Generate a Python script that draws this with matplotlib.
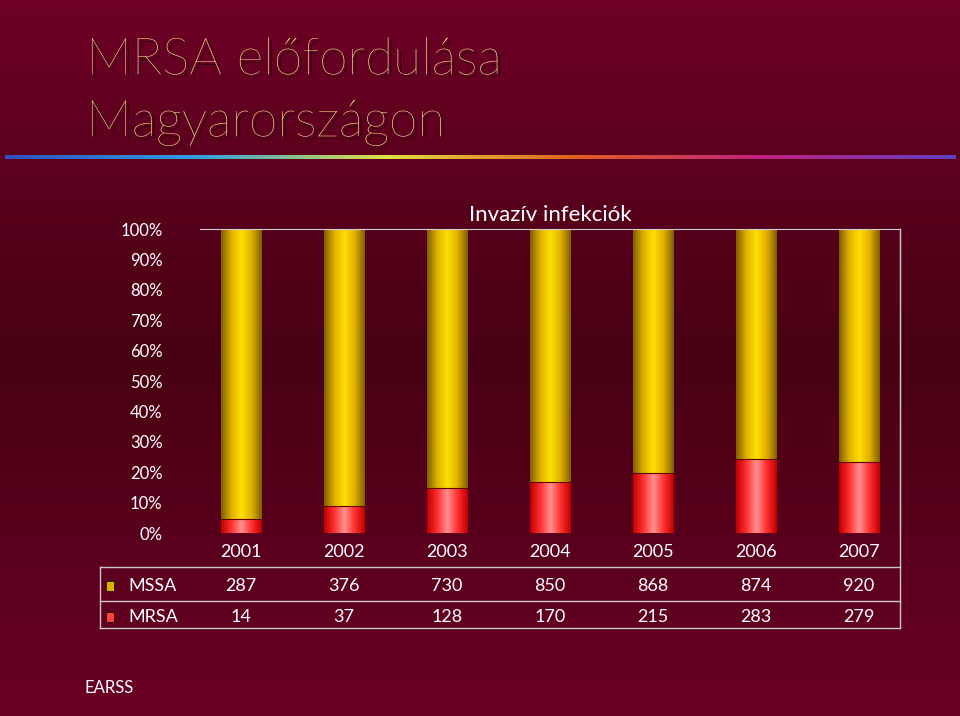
import matplotlib
matplotlib.use("Agg")
import matplotlib.pyplot as plt
import numpy as np
import matplotlib.patheffects as pe
from matplotlib.colors import LinearSegmentedColormap
from matplotlib.patches import Rectangle

years = ["2001", "2002", "2003", "2004", "2005", "2006", "2007"]
mssa = [287, 376, 730, 850, 868, 874, 920]
mrsa = [14, 37, 128, 170, 215, 283, 279]
yticks = ["0%", "10%", "20%", "30%", "40%", "50%", "60%", "70%", "80%", "90%", "100%"]

W, H = 960, 716
fig = plt.figure(figsize=(W/100, H/100), dpi=100)
font = "Lato"

bg = fig.add_axes([0, 0, 1, 1]); bg.axis("off")
bgcmap = LinearSegmentedColormap.from_list("bg", ["#6e0026", "#480014", "#6a0024"])
bg.imshow(np.linspace(0, 1, 200)[:, None], aspect="auto", cmap=bgcmap, extent=[0, 1, 0, 1])
rb = LinearSegmentedColormap.from_list("rb", ["#3050c0", "#30a0e0", "#e0e040", "#e06020", "#c02080", "#6040c0"])
bg.imshow(np.linspace(0, 1, 300)[None, :], aspect="auto", cmap=rb,
          extent=[0.005, 0.995, 1-159/H, 1-155/H])
bg.set_xlim(0, 1); bg.set_ylim(0, 1)

for txt, py in [("MRSA előfordulása", 60), ("Magyarországon", 122)]:
    fig.text(86/W, 1-py/H, txt, fontsize=37, color="#ffff99", family=font, fontweight="light",
             va="center", path_effects=[pe.withSimplePatchShadow(offset=(2, -2), shadow_rgbFace="black", alpha=0.8)])

L, R, T, B = 200, 900, 229, 533
ax = fig.add_axes([L/W, 1-B/H, (R-L)/W, (B-T)/H])
ax.set_facecolor("none")
x = np.arange(len(years))
pct_mrsa = [100*r/(s+r) for s, r in zip(mssa, mrsa)]
bw = 0.39
ycm = LinearSegmentedColormap.from_list("y", ["#806000", "#e0b000", "#ffe000", "#e0b000", "#806000"])
rcm = LinearSegmentedColormap.from_list("r", ["#c00000", "#ff3030", "#ff9090", "#ff3030", "#c00000"])
grad = np.linspace(0, 1, 100)[None, :]
for xi, p in zip(x, pct_mrsa):
    ax.imshow(grad, aspect="auto", cmap=rcm, extent=[xi-bw/2, xi+bw/2, 0, p], zorder=2)
    ax.imshow(grad, aspect="auto", cmap=ycm, extent=[xi-bw/2, xi+bw/2, p, 100], zorder=2)
    ax.plot([xi-bw/2, xi+bw/2], [p, p], color="#600000", lw=0.8, zorder=3)
ax.set_xlim(-0.4, len(years)-0.6); ax.set_ylim(0, 100)
ax.set_xticks([])
ax.set_yticks(range(0, 101, 10))
ax.set_yticklabels(yticks, family=font, fontsize=12, color="white")
ax.tick_params(axis="y", length=0, pad=27)
for s in ["top", "right"]:
    ax.spines[s].set_color("#d0d0d0")
ax.spines["left"].set_visible(False)
ax.spines["bottom"].set_visible(False)
ax.set_title("Invazív infekciók", family=font, fontsize=16, color="white", pad=6)

def fx(px): return px/W
def fy(py): return 1-py/H
tl = 100
lc = "#c8c8c8"
for yy in [567, 601, 628]:
    fig.add_artist(plt.Line2D([fx(tl), fx(R)], [fy(yy), fy(yy)], color=lc, lw=1))
fig.add_artist(plt.Line2D([fx(tl), fx(tl)], [fy(567), fy(628)], color=lc, lw=1))
fig.add_artist(plt.Line2D([fx(R), fx(R)], [fy(T), fy(628)], color=lc, lw=1))
centers = [ax.transData.transform((xi, 0))[0] for xi in x]
for cx, yr, s, r in zip(centers, years, mssa, mrsa):
    fig.text(cx/W, fy(552), yr, ha="center", va="center", color="white", family=font, fontsize=13)
    fig.text(cx/W, fy(586), str(s), ha="center", va="center", color="white", family=font, fontsize=13)
    fig.text(cx/W, fy(617), str(r), ha="center", va="center", color="white", family=font, fontsize=13)
fig.add_artist(Rectangle((fx(106), fy(591)), 8/W, 10/H, facecolor="#e0b000", edgecolor="black", lw=0.5))
fig.add_artist(Rectangle((fx(106), fy(622)), 8/W, 10/H, facecolor="#ff4040", edgecolor="black", lw=0.5))
fig.text(fx(128), fy(586), "MSSA", va="center", color="white", family=font, fontsize=13)
fig.text(fx(128), fy(617), "MRSA", va="center", color="white", family=font, fontsize=13)
fig.text(fx(84), fy(688), "EARSS", va="center", color="white", family=font, fontsize=12)

fig.savefig("out.png", dpi=100)
